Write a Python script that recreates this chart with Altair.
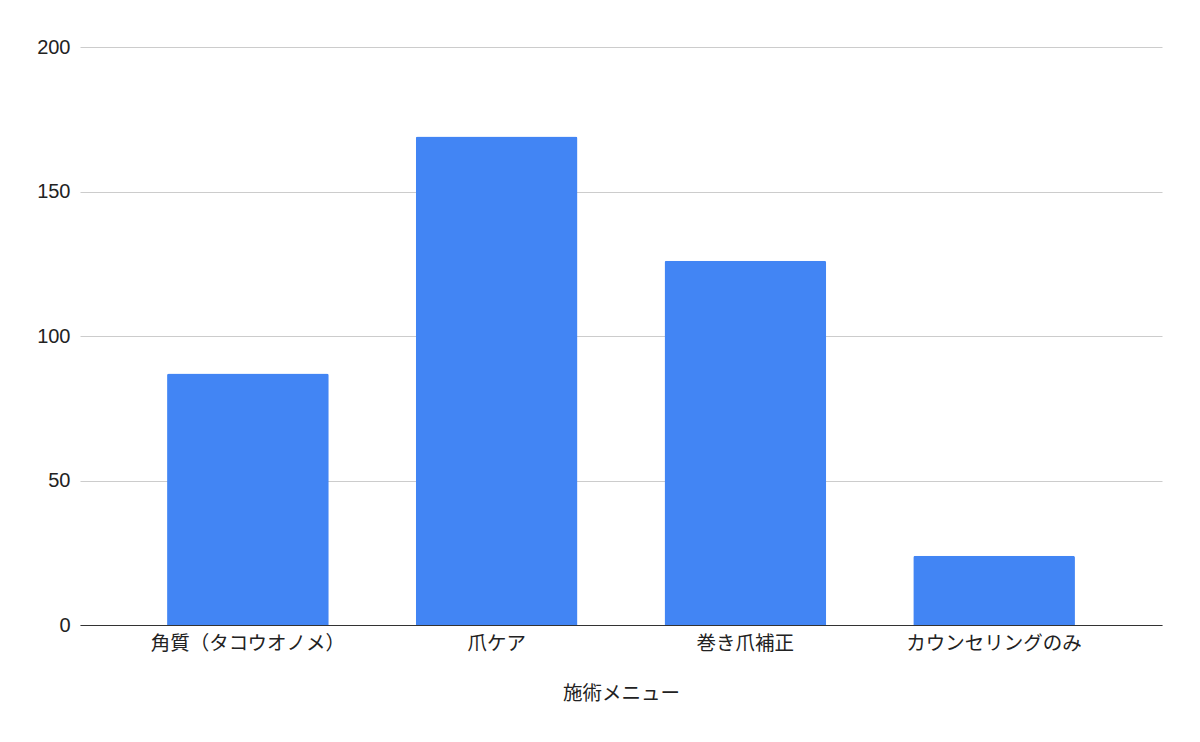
import altair as alt
import pandas as pd

categories = ["角質（タコウオノメ）", "爪ケア", "巻き爪補正", "カウンセリングのみ"]
counts = [87, 169, 126, 24]
y_ticks = [0, 50, 100, 150, 200]

df = pd.DataFrame({"menu": categories, "count": counts})

FONT = "Liberation Sans, Arial, Noto Sans CJK JP, sans-serif"

chart = alt.Chart(df).mark_bar(color="#4285F4", cornerRadiusTopLeft=2, cornerRadiusTopRight=2).encode(
    x=alt.X("menu:N", sort=categories,
            scale=alt.Scale(paddingInner=0.35, paddingOuter=0.35),
            axis=alt.Axis(title="施術メニュー", labelAngle=0, labelFontSize=19.5,
                          labelColor="#222222", labelPadding=9, ticks=False, labelLimit=400,
                          domainColor="#333333", domainWidth=1.2,
                          titleFontSize=19.5, titleFontWeight="normal", titleColor="#222222",
                          titlePadding=32, grid=False, labelFont=FONT, titleFont=FONT)),
    y=alt.Y("count:Q", scale=alt.Scale(domain=[0, 200], nice=False),
            axis=alt.Axis(title=None, values=y_ticks, labelFontSize=20, labelColor="#222222",
                          labelPadding=10, ticks=False, domain=False, gridColor="#cccccc",
                          gridWidth=1, labelFont=FONT)),
).properties(
    width=1082, height=578,
    autosize=alt.AutoSizeParams(type="none"),
    padding={"left": 72, "top": 39, "right": 22, "bottom": 100},
).configure(font=FONT).configure_view(stroke="transparent", strokeWidth=0)

chart.save("out.html", embed_options={"renderer": "svg", "actions": False})
